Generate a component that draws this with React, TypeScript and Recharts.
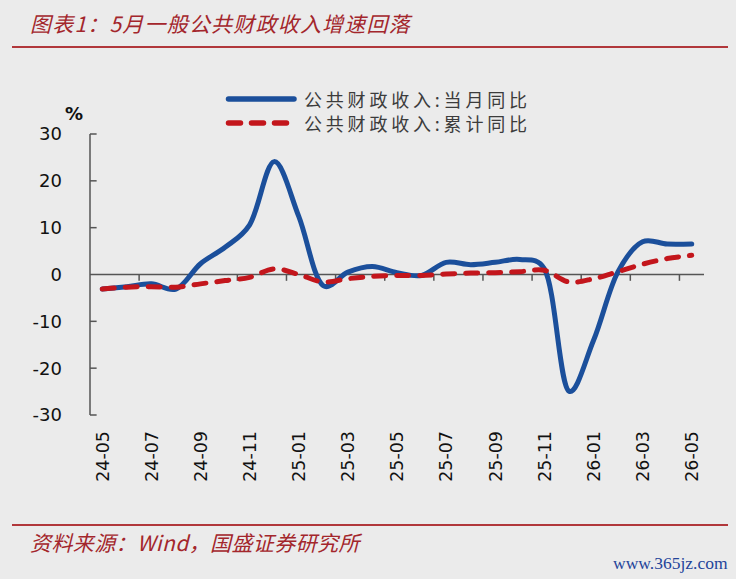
import React from 'react';
import { LineChart, Line, XAxis, YAxis, ReferenceLine, Legend } from 'recharts';

const months = [
  '24-05', '24-06', '24-07', '24-08', '24-09', '24-10', '24-11', '24-12',
  '25-01', '25-02', '25-03', '25-04', '25-05', '25-06', '25-07', '25-08',
  '25-09', '25-10', '25-11', '25-12', '26-01', '26-02', '26-03', '26-04', '26-05',
];
const monthlyYoY = [
  -3.1, -2.6, -2.0, -3.1, 2.3, 5.8, 10.6, 24.1, 12.4, -2.4, 0.5, 1.7, 0.4,
  -0.2, 2.6, 2.1, 2.6, 3.2, 1.2, -24.9, -14.1, 0.6, 7.0, 6.5, 6.5,
];
const cumulativeYoY = [
  -3.1, -2.7, -2.6, -2.7, -2.0, -1.3, -0.6, 1.2, 0.0, -1.6, -0.9, -0.4, -0.2,
  -0.2, 0.1, 0.3, 0.4, 0.6, 0.9, -1.6, -0.9, 0.6, 2.2, 3.4, 4.1,
];
const seriesNames = ['公共财政收入:当月同比', '公共财政收入:累计同比'];
const yTicks = [-30, -20, -10, 0, 10, 20, 30];
const labelTicks = months.map((_, i) => i).filter((i) => i % 2 === 0);
const betweenTicks = months.map((_, i) => i + 1.5).filter((v, i) => i % 2 === 0 && v < months.length - 1);

const titleText = '图表1：5月一般公共财政收入增速回落';
const sourceText = '资料来源：Wind，国盛证券研究所';
const watermark = 'www.365jz.com';

const BLUE = '#1b4f9b';
const RED = '#c3161c';
const AXIS = '#555555';
const DARKRED = '#a3262c';
const CJK = '"Noto Sans CJK SC", "DejaVu Sans", sans-serif';

const data = months.map((m, i) => ({
  i,
  m,
  monthly: monthlyYoY[i],
  cumulative: cumulativeYoY[i],
}));

// Smoothed line (parameterised Catmull-Rom as cubic Bezier), similar to spreadsheet smoothing
const smoothCurve: any = (context: any) => {
  let pts: number[][] = [];
  const alpha = 0.3;
  const dist = (a: number[], b: number[]) => Math.hypot(b[0] - a[0], b[1] - a[1]);
  return {
    areaStart() {},
    areaEnd() {},
    lineStart() {
      pts = [];
    },
    point(x: number, y: number) {
      pts.push([+x, +y]);
    },
    lineEnd() {
      const n = pts.length;
      if (!n) return;
      context.moveTo(pts[0][0], pts[0][1]);
      for (let k = 0; k < n - 1; k++) {
        const p1 = pts[k];
        const p2 = pts[k + 1];
        const p0 = k > 0 ? pts[k - 1] : null;
        const p3 = k + 2 < n ? pts[k + 2] : null;
        const l12 = dist(p1, p2);
        const l12a = Math.pow(l12, alpha);
        const l12_2a = Math.pow(l12, 2 * alpha);
        let c1x = p1[0];
        let c1y = p1[1];
        let c2x = p2[0];
        let c2y = p2[1];
        if (p0) {
          const l01 = dist(p0, p1);
          const la = Math.pow(l01, alpha);
          const l2a = Math.pow(l01, 2 * alpha);
          if (la > 1e-9) {
            const a = 2 * l2a + 3 * la * l12a + l12_2a;
            const nn = 3 * la * (la + l12a);
            c1x = (p1[0] * a - p0[0] * l12_2a + p2[0] * l2a) / nn;
            c1y = (p1[1] * a - p0[1] * l12_2a + p2[1] * l2a) / nn;
          }
        } else {
          c1x = p1[0] + (p2[0] - p1[0]) / 3;
          c1y = p1[1] + (p2[1] - p1[1]) / 3;
        }
        if (p3) {
          const l23 = dist(p2, p3);
          const la = Math.pow(l23, alpha);
          const l2a = Math.pow(l23, 2 * alpha);
          if (la > 1e-9) {
            const b = 2 * l2a + 3 * la * l12a + l12_2a;
            const m = 3 * la * (la + l12a);
            c2x = (p2[0] * b + p1[0] * l2a - p3[0] * l12_2a) / m;
            c2y = (p2[1] * b + p1[1] * l2a - p3[1] * l12_2a) / m;
          }
        } else {
          c2x = p2[0] - (p2[0] - p1[0]) / 3;
          c2y = p2[1] - (p2[1] - p1[1]) / 3;
        }
        context.bezierCurveTo(c1x, c1y, c2x, c2y, p2[0], p2[1]);
      }
    },
  };
};

const XTick = (props: any) => {
  const { x, y, payload } = props;
  const label = months[payload.value] ?? '';
  return (
    <text
      x={x}
      y={y}
      dy="0.36em"
      transform={`rotate(-90, ${x}, ${y})`}
      textAnchor="end"
      fontSize={17.5}
      fontFamily='"DejaVu Sans", sans-serif'
      fill="#111"
    >
      {label}
    </text>
  );
};

const YTick = (props: any) => {
  const { x, y, payload } = props;
  return (
    <text
      x={x}
      y={y}
      dy="0.36em"
      textAnchor="end"
      fontSize={18}
      fontFamily='"DejaVu Sans", sans-serif'
      fill="#111"
    >
      {payload.value}
    </text>
  );
};

const LegendContent = () => (
  <div style={{ fontFamily: CJK, fontSize: 18, color: '#3c3c3c', letterSpacing: 3.8 }}>
    {seriesNames.map((name, k) => (
      <div key={name} style={{ display: 'flex', alignItems: 'center', height: 24 }}>
        <svg width={76} height={10} style={{ display: 'block' }}>
          <line
            x1={4.5}
            y1={5}
            x2={k === 0 ? 70 : 68}
            y2={5}
            stroke={k === 0 ? BLUE : RED}
            strokeWidth={5.5}
            strokeLinecap="round"
            strokeDasharray={k === 0 ? undefined : '12 11'}
          />
        </svg>
        <span style={{ marginLeft: 4, lineHeight: '24px', whiteSpace: 'nowrap' }}>{name}</span>
      </div>
    ))}
  </div>
);

export default function App() {
  return (
    <div
      style={{
        position: 'fixed',
        left: 0,
        top: 0,
        width: 736,
        height: 579,
        background: '#ebebeb',
        overflow: 'hidden',
      }}
    >
      <div
        style={{
          position: 'absolute',
          left: 30,
          top: 9,
          fontFamily: CJK,
          fontStyle: 'italic',
          fontSize: 21,
          letterSpacing: 1.2,
          color: DARKRED,
          whiteSpace: 'nowrap',
          lineHeight: '28px',
        }}
      >
        {titleText}
      </div>
      <div style={{ position: 'absolute', left: 12, top: 46, width: 716, height: 2, background: '#b1373b' }} />
      <div style={{ position: 'absolute', left: 12, top: 524, width: 716, height: 2, background: '#b1373b' }} />
      <div
        style={{
          position: 'absolute',
          left: 30,
          top: 528,
          fontFamily: CJK,
          fontStyle: 'italic',
          fontSize: 21,
          letterSpacing: 0.4,
          color: DARKRED,
          whiteSpace: 'nowrap',
          lineHeight: '28px',
        }}
      >
        {sourceText}
      </div>
      <div
        style={{
          position: 'absolute',
          left: 613,
          top: 552,
          fontFamily: '"Liberation Serif", serif',
          fontSize: 17.5,
          color: '#24449a',
          whiteSpace: 'nowrap',
          lineHeight: '22px',
        }}
      >
        {watermark}
      </div>
      <div
        style={{
          position: 'absolute',
          left: 65,
          top: 102,
          fontFamily: '"DejaVu Sans", sans-serif',
          fontWeight: 'bold',
          fontSize: 18,
          color: '#111',
          lineHeight: '24px',
        }}
      >
        %
      </div>
      <div style={{ position: 'absolute', left: 0, top: 0 }}>
        <LineChart
          width={736}
          height={579}
          data={data}
          margin={{ top: 134, right: 32, bottom: 104, left: 40 }}
        >
          <XAxis
            dataKey="i"
            type="number"
            domain={[-0.5, months.length - 0.5]}
            ticks={labelTicks}
            interval={0}
            axisLine={false}
            tickLine={false}
            tickSize={8}
            tickMargin={8}
            height={60}
            tick={<XTick />}
          />
          <YAxis
            type="number"
            domain={[-30, 30]}
            ticks={yTicks}
            interval={0}
            width={50}
            axisLine={{ stroke: AXIS, strokeWidth: 1.5 }}
            tickLine={false}
            tickSize={20}
            tickMargin={8}
            tick={<YTick />}
          />
          <ReferenceLine y={0} stroke={AXIS} strokeWidth={1.5} />
          {yTicks
            .filter((v) => v !== 0)
            .map((v) => (
              <ReferenceLine
                key={`yt${v}`}
                segment={[
                  { x: -0.5, y: v },
                  { x: -0.23, y: v },
                ]}
                stroke={AXIS}
                strokeWidth={1.5}
              />
            ))}
          {betweenTicks.map((t) => (
            <ReferenceLine
              key={`xt${t}`}
              segment={[
                { x: t, y: 0 },
                { x: t, y: -1.35 },
              ]}
              stroke={AXIS}
              strokeWidth={1.5}
            />
          ))}
          <Legend
            layout="vertical"
            align="center"
            verticalAlign="middle"
            content={<LegendContent />}
            wrapperStyle={{ top: 87, left: 224, width: 360 }}
          />
          <Line
            dataKey="monthly"
            name={seriesNames[0]}
            type={smoothCurve}
            stroke={BLUE}
            strokeWidth={5}
            strokeLinecap="round"
            strokeLinejoin="round"
            dot={false}
            activeDot={false}
            isAnimationActive={false}
          />
          <Line
            dataKey="cumulative"
            name={seriesNames[1]}
            type={smoothCurve}
            stroke={RED}
            strokeWidth={5}
            strokeLinecap="round"
            strokeDasharray="12 11"
            dot={false}
            activeDot={false}
            isAnimationActive={false}
          />
        </LineChart>
      </div>
    </div>
  );
}
